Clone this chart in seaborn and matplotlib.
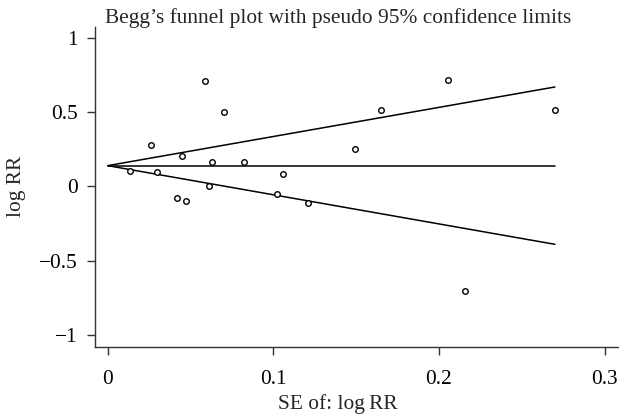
import matplotlib
matplotlib.use("Agg")
import matplotlib.pyplot as plt
import seaborn as sns
import numpy as np
import pandas as pd

# Data
se_log_rr = [0.0135, 0.026, 0.030, 0.045, 0.042, 0.047, 0.059, 0.063, 0.061, 0.070,
             0.082, 0.106, 0.102, 0.121, 0.149, 0.165, 0.2054, 0.270, 0.216]
log_rr = [0.103, 0.28, 0.096, 0.204, -0.081, -0.099, 0.71, 0.165, 0.004, 0.498,
          0.163, 0.085, -0.054, -0.114, 0.251, 0.513, 0.713, 0.513, -0.704]
pooled = 0.139
x_ticks = [0, 0.1, 0.2, 0.3]
x_tick_labels = ["0", "0.1", "0.2", "0.3"]
y_ticks = [1, 0.5, 0, -0.5, -1]
y_tick_labels = ["1", "0.5", "0", "\u22120.5", "\u22121"]
title = "Begg\u2019s funnel plot with pseudo 95% confidence limits"
xlabel = "SE of: log\u2009RR"
ylabel = "log RR"

sns.set_theme(style="ticks")
plt.rcParams["font.family"] = ["Liberation Serif", "DejaVu Serif"]

FS = 15.4

fig = plt.figure(figsize=(6.19, 4.17), dpi=100)
W, H = 619, 417
ax = fig.add_axes([94.7 / W, (H - 346.7) / H, (620 - 94.7) / W, (346.7 - 26.7) / H])

df = pd.DataFrame({"se": se_log_rr, "lrr": log_rr})
se_max = max(se_log_rr)
lines = pd.DataFrame({
    "se": [0, se_max] * 3,
    "val": [pooled, pooled,
            pooled, pooled + 1.96 * se_max,
            pooled, pooled - 1.96 * se_max],
    "grp": ["mid", "mid", "up", "up", "lo", "lo"],
})
for g in ["mid", "up", "lo"]:
    sub = lines[lines.grp == g]
    sns.lineplot(data=sub, x="se", y="val", ax=ax, color="black", linewidth=1.1,
                 estimator=None, sort=False)

sns.scatterplot(data=df, x="se", y="lrr", ax=ax, marker="o", s=16,
                facecolor="white", edgecolor="black", linewidth=1.0, zorder=5)

ax.set_xlim(-0.00786, 0.3093)
ax.set_ylim(-1.079, 1.0737)
ax.set_xticks(x_ticks)
ax.set_xticklabels(x_tick_labels)
ax.set_yticks(y_ticks)
ax.set_yticklabels(y_tick_labels)
ax.set_xlabel("")
ax.set_ylabel("")
for s in ["top", "right"]:
    ax.spines[s].set_visible(False)
for s in ["left", "bottom"]:
    ax.spines[s].set_linewidth(1.0)
    ax.spines[s].set_color("#333333")
ax.tick_params(axis="both", direction="out", length=6, width=1.0, colors="#333333",
               labelcolor="black", labelsize=FS)
ax.tick_params(axis="x", pad=11)
ax.tick_params(axis="y", pad=6)

fig.text(338 / W, 1 - 18 / H, title, ha="center", va="center", fontsize=FS)
fig.text(338 / W, 1 - 404 / H, xlabel, ha="center", va="center", fontsize=FS)
fig.text(16 / W, 1 - 186 / H, ylabel, ha="center", va="center", rotation=90, fontsize=FS)

fig.savefig("out.png", dpi=100)
